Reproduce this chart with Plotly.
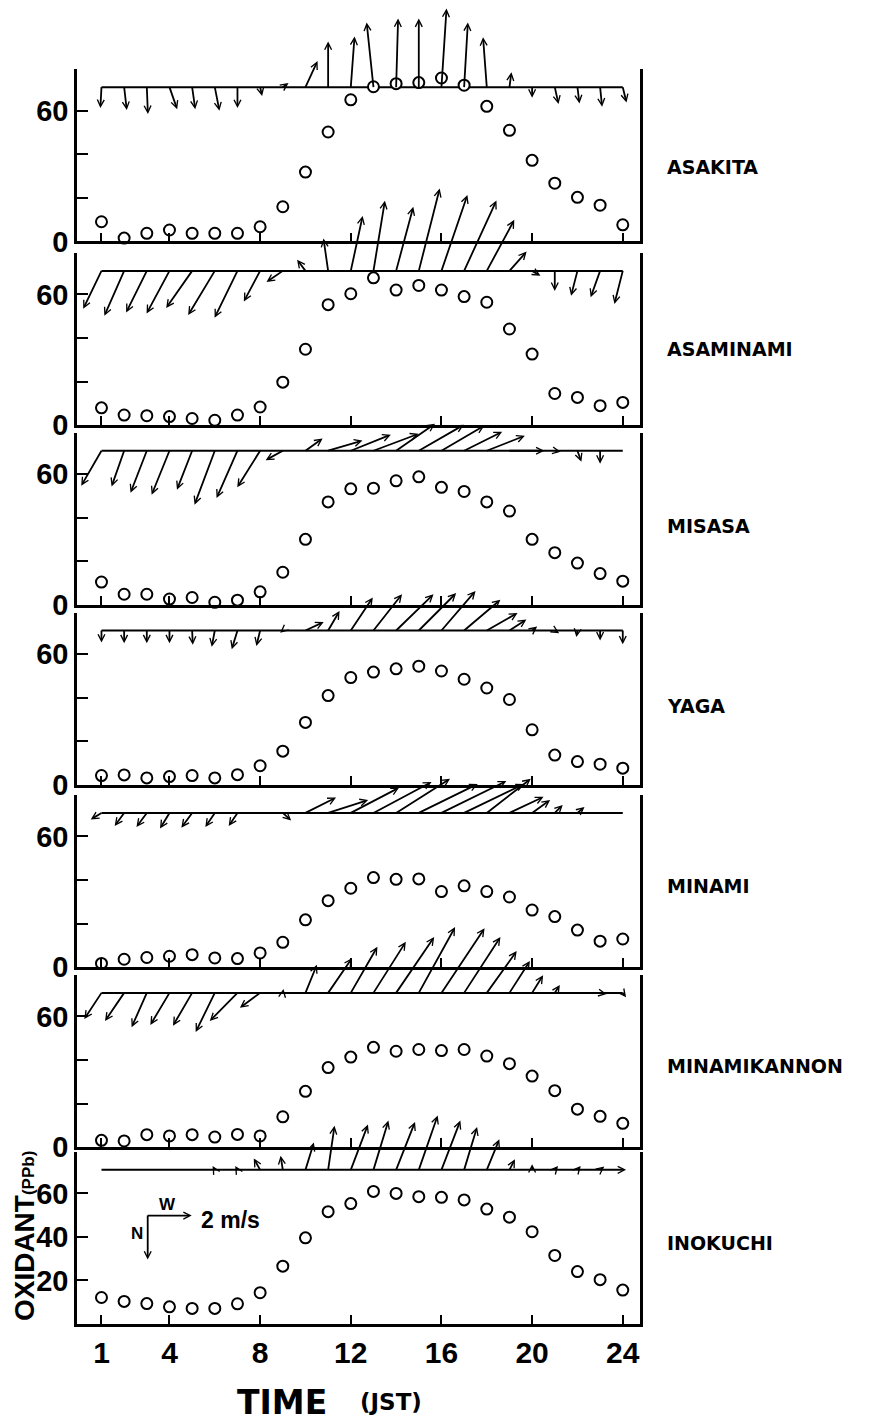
import plotly.graph_objects as go

# ---------------- data ----------------
hours = list(range(1, 25))
stations = ["ASAKITA", "ASAMINAMI", "MISASA", "YAGA", "MINAMI", "MINAMIKANNON", "INOKUCHI"]

# oxidant concentration (ppb)
ox_asakita = [9, 1.5, 3.7, 5.2, 3.7, 3.7, 3.7, 6.7, 15.9, 31.8, 50.2, 65, 71, 72.4, 72.9, 75, 71.7, 62, 51, 37.2, 26.7, 20.2, 16.6, 7.6]
ox_asaminami = [7.9, 4.6, 4.3, 3.9, 3.0, 2.2, 4.6, 8.3, 19.7, 34.8, 55.3, 60.3, 67.6, 62, 64.1, 62, 59, 56.4, 44.1, 32.6, 14.5, 12.7, 8.9, 10.4]
ox_misasa = [10.5, 4.9, 4.9, 2.7, 3.4, 1.2, 2.2, 6, 15, 30.1, 47.3, 53.3, 53.6, 57, 58.8, 54, 52.1, 47.3, 43.1, 30.1, 24, 19.2, 14.4, 10.9]
ox_yaga = [4.2, 4.5, 3.1, 3.7, 4.2, 3.1, 4.6, 8.7, 15.4, 28.6, 40.9, 49.2, 51.7, 53.2, 54.4, 52.2, 48.4, 44.4, 39.1, 25.2, 13.6, 10.6, 9.4, 7.6]
ox_minami = [1.7, 3.6, 4.4, 5, 5.7, 4.2, 3.9, 6.5, 11.4, 21.7, 30.5, 36.2, 41.1, 40.3, 40.5, 34.7, 37.3, 34.7, 32.2, 26.2, 23.2, 17, 11.9, 12.9]
ox_minamikannon = [3.1, 2.8, 5.7, 5.1, 5.7, 4.6, 5.8, 5.1, 13.9, 25.6, 36.5, 41.3, 45.8, 44, 44.8, 44.3, 44.8, 41.8, 38.3, 32.6, 25.9, 17.4, 14.1, 10.9]
ox_inokuchi = [12.2, 10.4, 9.4, 7.9, 7.2, 7.2, 9.3, 14.4, 26.6, 39.6, 51.6, 55.3, 60.9, 60, 58.5, 58.2, 57, 52.8, 49.1, 42.4, 31.5, 24.1, 20.4, 15.6]

# wind components (m/s): u toward east, v toward north
u_asakita = [-0.05, 0.12, 0.05, 0.35, 0.14, 0.21, 0, 0.09, 0.26, 0.55, 0, 0.17, -0.31, 0.09, 0, 0.23, 0.17, -0.17, 0.09, 0, 0.17, 0.09, 0.09, 0.17]
v_asakita = [-0.95, -1.04, -1.22, -1.0, -1.0, -1.07, -0.95, -0.4, 0.19, 1.19, 2.08, 2.3, 2.94, 3.12, 3.12, 3.57, 2.94, 2.27, 0.68, -0.48, -0.77, -0.74, -0.89, -0.7]
u_asaminami = [-0.83, -0.9, -0.94, -1.04, -1.18, -1.21, -1.04, -0.74, -0.74, -0.38, -0.21, 0.54, 0.52, 0.78, 0.95, 1.18, 1.47, 1.25, 0.78, 0.38, 0, -0.29, -0.43, -0.38]
v_asaminami = [-1.72, -2.04, -1.89, -1.94, -1.69, -2.01, -2.13, -1.39, -0.51, 0.51, 1.47, 2.5, 3.19, 2.91, 3.74, 3.45, 3.2, 2.32, 0.88, -0.22, -0.91, -1.13, -1.2, -1.5]
u_misasa = [-0.92, -0.57, -0.74, -0.81, -0.69, -0.92, -0.95, -1.04, -0.78, 0.78, 1.56, 1.82, 2.05, 1.77, 2.05, 1.95, 1.73, 1.73, 1.59, 0, 0.27, 0.18, 0, 0]
v_misasa = [-1.59, -1.62, -1.91, -2.0, -1.77, -2.45, -2.15, -1.66, -0.43, 0.56, 0.46, 0.73, 0.77, 1.23, 1.18, 1.14, 0.86, 0.68, 0, 0, -0.05, -0.5, -0.59, 0]
u_yaga = [0, 0, 0, 0, 0.03, -0.14, -0.26, -0.17, -0.12, 0.83, 0.52, 1.0, 1.3, 1.7, 1.7, 1.55, 1.65, 1.4, 0.77, 0.23, 0.2, -0.05, 0, 0]
v_yaga = [-0.55, -0.58, -0.58, -0.58, -0.65, -0.74, -0.85, -0.7, -0.1, 0.39, 0.89, 1.5, 1.65, 1.65, 1.7, 1.8, 1.4, 0.8, 0.5, 0.18, -0.12, -0.3, -0.45, -0.63]
u_minami = [-0.49, -0.43, -0.47, -0.43, -0.49, -0.43, -0.4, 0, 0.38, 1.39, 1.82, 2.2, 2.64, 2.45, 2.68, 2.95, 2.73, 2.0, 1.55, 0.82, 0.36, 0.32, 0.09, 0]
v_minami = [-0.3, -0.59, -0.64, -0.71, -0.67, -0.64, -0.59, 0, -0.34, 0.7, 0.59, 1.15, 1.41, 1.55, 1.32, 1.45, 1.32, 1.55, 0.73, 0.59, 0.36, 0.27, 0.05, 0]
u_minamikannon = [-0.78, -0.87, -0.69, -0.87, -0.87, -0.87, -1.26, -0.92, 0.03, 0.52, 1.09, 1.21, 1.47, 1.73, 1.65, 1.96, 1.65, 1.36, 0.93, 0.5, 0.23, 0.05, 0.3, 0.15]
v_minamikannon = [-1.19, -1.28, -1.56, -1.46, -1.49, -1.78, -1.28, -0.68, 0.18, 1.28, 1.58, 2.1, 2.32, 2.54, 2.99, 2.94, 2.54, 1.9, 1.45, 0.8, 0.36, 0.1, -0.05, -0.2]
u_inokuchi = [0, 0.05, 0, -0.08, 0, -0.1, -0.1, -0.29, -0.1, 0.38, 0.29, 0.78, 0.68, 0.86, 0.86, 0.86, 0.59, 0.57, 0.25, 0, 0.15, 0.15, 0.19, 0.15]
v_inokuchi = [0, -0.1, 0, -0.08, 0, 0.18, 0.18, 0.52, 0.64, 1.24, 2.0, 2.06, 2.24, 2.18, 2.47, 2.24, 1.95, 1.39, 0.48, 0.26, 0.18, 0.18, 0.15, 0]

oxidant = [ox_asakita, ox_asaminami, ox_misasa, ox_yaga, ox_minami, ox_minamikannon, ox_inokuchi]
wind_u = [u_asakita, u_asaminami, u_misasa, u_yaga, u_minami, u_minamikannon, u_inokuchi]
wind_v = [v_asakita, v_asaminami, v_misasa, v_yaga, v_minami, v_minamikannon, v_inokuchi]

x_tick_vals = [1, 4, 8, 12, 16, 20, 24]
x_tick_text = ["1", "4", "8", "12", "16", "20", "24"]
y_tick_vals_upper = [0, 20, 40, 60]
y_tick_text_upper = ["0", "", "", "60"]
y_tick_vals_bottom = [20, 40, 60]
y_tick_text_bottom = ["20", "40", "60"]

legend_speed = 2  # m/s reference vector

# ---------------- style / layout ----------------
W, H = 893, 1425
X0, X1 = 69, 632
XRANGE = [-0.08, 24.76]
PANEL_H = 174
PANEL_BOTTOMS = [236, 421.8, 603.7, 785.5, 970, 1152, 1331]   # pixel rows
BASE = 70.8           # vector stick baseline (in ppb axis units)
SCALE = 22            # pixels per m/s
YMAX = 79
label_y = [0.43, 0.44, 0.46, 0.46, 0.47, 0.47, 0.47]

NUM_FONT = "Liberation Sans Narrow, Liberation Sans, Arial, sans-serif"
TXT_FONT = "DejaVu Sans, Liberation Sans, sans-serif"
AX_FONT = "Liberation Sans, Arial, sans-serif"

fig = go.Figure()
layout = dict(width=W, height=H, margin=dict(l=0, r=0, t=0, b=0),
              paper_bgcolor="white", plot_bgcolor="white", showlegend=False)
annotations = []

for i in range(7):
    sfx = "" if i == 0 else str(i + 1)
    xa, ya = "x" + sfx, "y" + sfx
    bottom = PANEL_BOTTOMS[i]
    top = bottom - PANEL_H
    last = i == 6

    layout["xaxis" + sfx] = dict(
        domain=[X0 / W, X1 / W], range=XRANGE, anchor=ya,
        showline=True, linecolor="black", linewidth=2.5,
        ticks="inside", ticklen=9, tickwidth=1.6, tickcolor="black",
        tickvals=x_tick_vals, ticktext=x_tick_text, showticklabels=last,
        tickfont=dict(family=NUM_FONT, size=30, color="black", weight="bold"),
        showgrid=False, zeroline=False, fixedrange=True)
    layout["yaxis" + sfx] = dict(
        domain=[(H - bottom) / H, (H - top) / H], range=[0, YMAX], anchor=xa,
        showline=True, mirror=True, linecolor="black", linewidth=2.5,
        ticks="inside", ticklen=11, tickwidth=1.6, tickcolor="black",
        tickvals=y_tick_vals_bottom if last else y_tick_vals_upper,
        ticktext=y_tick_text_bottom if last else y_tick_text_upper,
        tickfont=dict(family=NUM_FONT, size=29, color="black", weight="bold"),
        showgrid=False, zeroline=False, fixedrange=True)

    # baseline of the wind sticks
    fig.add_trace(go.Scatter(x=[hours[0], hours[-1]], y=[BASE, BASE], mode="lines",
                             line=dict(color="black", width=2), xaxis=xa, yaxis=ya,
                             hoverinfo="skip"))
    # oxidant circles
    fig.add_trace(go.Scatter(x=hours, y=oxidant[i], mode="markers", xaxis=xa, yaxis=ya,
                             cliponaxis=False,
                             marker=dict(symbol="circle", size=11, color="white",
                                         line=dict(color="black", width=2))))
    # wind vectors
    for h, u, v in zip(hours, wind_u[i], wind_v[i]):
        if abs(u) < 1e-9 and abs(v) < 1e-9:
            continue
        annotations.append(dict(
            x=h, y=BASE, xref=xa, yref=ya, text="", showarrow=True,
            ax=u * SCALE, ay=-v * SCALE, axref="pixel", ayref="pixel",
            arrowside="start", startarrowhead=5, startarrowsize=0.75,
            arrowwidth=1.8, arrowcolor="black", standoff=0, startstandoff=0,
            borderpad=0, borderwidth=0, font=dict(size=1)))
    # station name
    annotations.append(dict(
        x=1.045, y=label_y[i], xref=xa + " domain", yref=ya + " domain",
        text=stations[i], showarrow=False, xanchor="left", yanchor="middle",
        font=dict(family=TXT_FONT, size=19, color="black", weight="bold")))

# legend of the wind vector scale (bottom panel)
lx, ly = 3.04, 49.8
annotations.append(dict(x=lx, y=ly, xref="x7", yref="y7", text="", showarrow=True,
                        ax=legend_speed * SCALE, ay=0, axref="pixel", ayref="pixel",
                        arrowside="start", startarrowhead=5, startarrowsize=0.75,
                        arrowwidth=1.8, arrowcolor="black", borderpad=0, borderwidth=0,
                        font=dict(size=1)))
annotations.append(dict(x=lx, y=ly, xref="x7", yref="y7", text="", showarrow=True,
                        ax=0, ay=legend_speed * SCALE, axref="pixel", ayref="pixel",
                        arrowside="start", startarrowhead=5, startarrowsize=0.75,
                        arrowwidth=1.8, arrowcolor="black", borderpad=0, borderwidth=0,
                        font=dict(size=1)))
annotations.append(dict(x=3.9, y=55, xref="x7", yref="y7", text="W", showarrow=False,
                        xanchor="center", yanchor="middle",
                        font=dict(family=AX_FONT, size=17, color="black", weight="bold")))
annotations.append(dict(x=2.55, y=41.5, xref="x7", yref="y7", text="N", showarrow=False,
                        xanchor="center", yanchor="middle",
                        font=dict(family=AX_FONT, size=17, color="black", weight="bold")))
annotations.append(dict(x=5.3, y=48, xref="x7", yref="y7", text="2 m/s", showarrow=False,
                        xanchor="left", yanchor="middle",
                        font=dict(family=AX_FONT, size=23, color="black", weight="bold")))

# axis titles
annotations.append(dict(x=16 / W, y=(H - 1242) / H, xref="paper", yref="paper",
                        xanchor="center", yanchor="middle",
                        text="OXIDANT<span style='font-size:17px'>(PPb)</span>",
                        textangle=-90, showarrow=False,
                        font=dict(family=AX_FONT, size=28, color="black", weight="bold")))
annotations.append(dict(x=274 / W, y=(H - 1410) / H, xref="paper", yref="paper",
                        xanchor="center", yanchor="middle",
                        text="TIME", showarrow=False,
                        font=dict(family=TXT_FONT, size=33, color="black", weight="bold")))
annotations.append(dict(x=383 / W, y=(H - 1410) / H, xref="paper", yref="paper",
                        xanchor="center", yanchor="middle",
                        text="(JST)", showarrow=False,
                        font=dict(family=TXT_FONT, size=23, color="black", weight="bold")))

layout["annotations"] = annotations
fig.update_layout(**layout)
fig.write_html("out.html")
